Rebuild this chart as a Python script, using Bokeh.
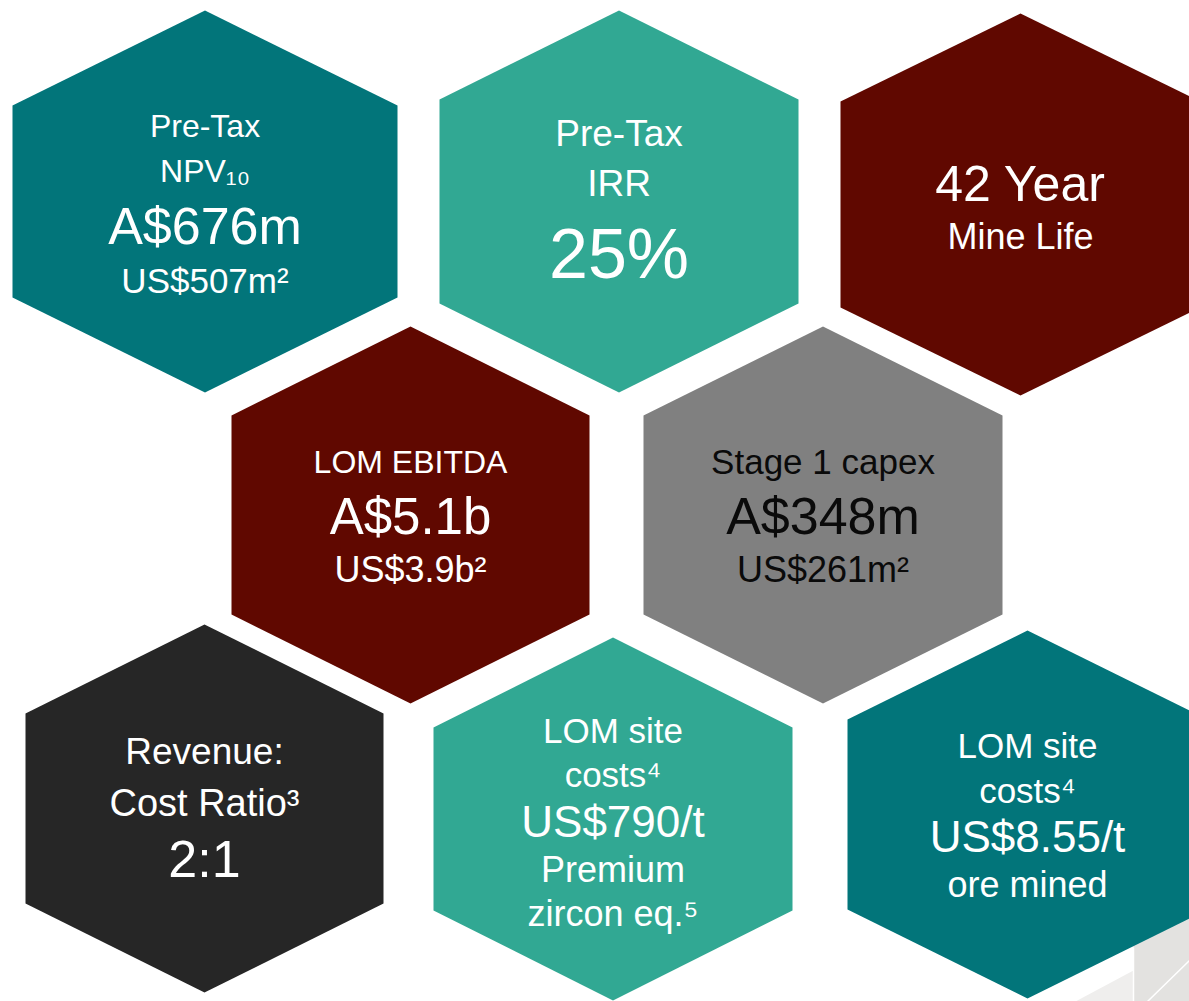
from bokeh.plotting import figure
from bokeh.models import ColumnDataSource, Range1d
from bokeh.embed import file_html
from bokeh.resources import INLINE
from bokeh.core.properties import value

# ---- data (texts shown in each hexagon) ----
npv_lines = ["Pre-Tax", "NPV\u2081\u2080", "A$676m", "US$507m\u00b2"]
irr_lines = ["Pre-Tax", "IRR", "25%"]
life_lines = ["42 Year", "Mine Life"]
ebitda_lines = ["LOM EBITDA", "A$5.1b", "US$3.9b\u00b2"]
capex_lines = ["Stage 1 capex", "A$348m", "US$261m\u00b2"]
ratio_lines = ["Revenue:", "Cost Ratio\u00b3", "2:1"]
zircon_lines = ["LOM site", "costs\u2074", "US$790/t", "Premium", "zircon eq.\u2075"]
ore_lines = ["LOM site", "costs\u2074", "US$8.55/t", "ore mined"]

# ---- layout / style (pixel geometry of the reference) ----
TEAL = "#02757A"
LTEAL = "#31A893"
DRED = "#600800"
GRAY = "#808080"
DARK = "#262626"
BASE_SHIFT = 0.38  # renderer places baseline ~0.38em low; compensate

tiles = [
    # cx, top, bottom, half-width, slant, fill, text colour, lines, baselines, font sizes
    dict(cx=204.5, top=10, bot=392, hw=192.5, s=95, fill=TEAL, tc="white", lines=npv_lines,
         base=[138, 183, 245, 293], fs=[32, 32, 52, 35]),
    dict(cx=618.5, top=10, bot=392, hw=179.5, s=89, fill=LTEAL, tc="white", lines=irr_lines,
         base=[147, 197, 280], fs=[37, 37, 70]),
    dict(cx=1020, top=13, bot=395, hw=180, s=88, fill=DRED, tc="white", lines=life_lines,
         base=[202, 250], fs=[50, 36]),
    dict(cx=410, top=326, bot=703, hw=179, s=89, fill=DRED, tc="white", lines=ebitda_lines,
         base=[474, 535, 583], fs=[32, 51, 36]),
    dict(cx=822.5, top=326, bot=703, hw=179.5, s=89, fill=GRAY, tc="#0a0a0a", lines=capex_lines,
         base=[474, 535, 583], fs=[35, 52, 36]),
    dict(cx=204, top=624, bot=992, hw=179, s=89, fill=DARK, tc="white", lines=ratio_lines,
         base=[765, 817, 878], fs=[37, 38, 52]),
    dict(cx=612.5, top=637, bot=1000, hw=179.5, s=90, fill=LTEAL, tc="white", lines=zircon_lines,
         base=[743, 787, 838, 883, 927], fs=[35, 35, 44, 36, 36]),
    dict(cx=1027, top=630, bot=998, hw=180, s=89, fill=TEAL, tc="white", lines=ore_lines,
         base=[758, 803, 853, 898], fs=[35, 35, 44, 36]),
]

W, H = 1189, 1001
p = figure(width=W, height=H, x_range=Range1d(0, W), y_range=Range1d(H, 0),
           output_backend="svg", toolbar_location=None, min_border=0)
p.axis.visible = False
p.grid.visible = False
p.outline_line_color = None
p.background_fill_color = "white"
p.border_fill_color = "white"

# decorative light-grey corner behind the last hexagon
p.patch([1075, 1133, 1133], [1001, 970, 1001], fill_color="#EFEEED", line_color=None)
p.patch([1133, 1189, 1189, 1133], [940, 905, 1001, 1001], fill_color="#E3E2E0", line_color=None)
p.line([1133, 1133], [947, 1001], line_color="white", line_width=1.5)
p.line([1147, 1189], [1001, 960], line_color="white", line_width=1.5)

xs, ys, fills = [], [], []
for t in tiles:
    cx, top, bot, hw, s = t["cx"], t["top"], t["bot"], t["hw"], t["s"]
    xs.append([cx, cx + hw, cx + hw, cx, cx - hw, cx - hw])
    ys.append([top, top + s, bot - s, bot, bot - s, top + s])
    fills.append(t["fill"])
p.patches(xs="xs", ys="ys", fill_color="fill", line_color=None,
          source=ColumnDataSource(dict(xs=xs, ys=ys, fill=fills)))

tx, ty, tt, tsz, tcol = [], [], [], [], []
for t in tiles:
    for line, b, f in zip(t["lines"], t["base"], t["fs"]):
        tx.append(t["cx"])
        ty.append(b - BASE_SHIFT * f)
        tt.append(line)
        tsz.append(f"{f}px")
        tcol.append(t["tc"])
p.text(x="x", y="y", text="text", text_font_size="size", text_color="color",
       text_align="center", text_baseline="alphabetic",
       text_font=value("Liberation Sans"),
       source=ColumnDataSource(dict(x=tx, y=ty, text=tt, size=tsz, color=tcol)))

open("out.html", "w").write(file_html(p, INLINE))
